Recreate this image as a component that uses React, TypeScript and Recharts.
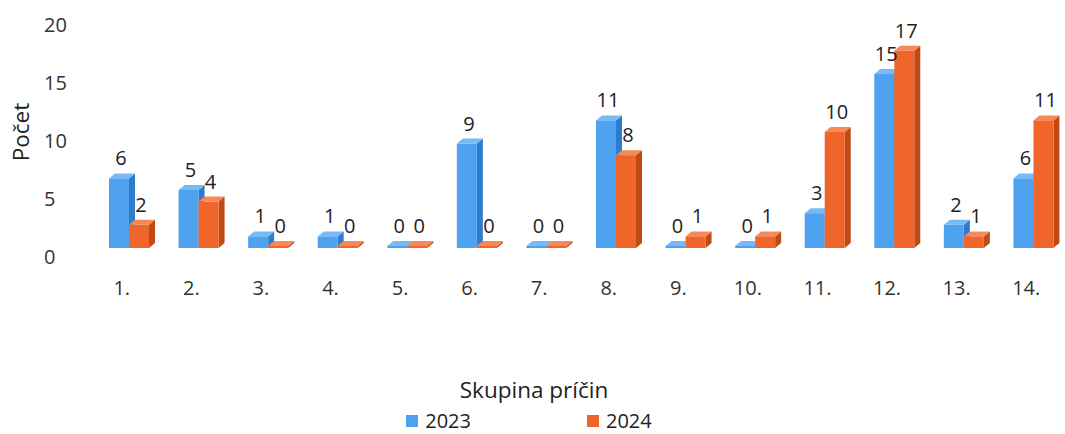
import { BarChart, Bar, XAxis, YAxis, Legend, LabelList } from "recharts";

const categories = ["1.", "2.", "3.", "4.", "5.", "6.", "7.", "8.", "9.", "10.", "11.", "12.", "13.", "14."];
const values2023 = [6, 5, 1, 1, 0, 9, 0, 11, 0, 0, 3, 15, 2, 6];
const values2024 = [2, 4, 0, 0, 0, 0, 0, 8, 1, 1, 10, 17, 1, 11];
const yTicks = [0, 5, 10, 15, 20];

const data = categories.map((name, i) => ({ name, y2023: values2023[i], y2024: values2024[i] }));

const FONT = "'Open Sans', sans-serif";
const DEPTH_X = 6;
const DEPTH_Y = 5;

const palette = {
  y2023: { front: "#4ea2f0", side: "#2f7ccc", top: "#76baf7" },
  y2024: { front: "#f0662a", side: "#c04a16", top: "#f58a56" },
};

function make3DBar(colors: { front: string; side: string; top: string }) {
  return (props: any) => {
    const { x, width } = props;
    let { y, height } = props;
    if (height < 2) {
      y = y + height - 2;
      height = 2;
    }
    const dx = DEPTH_X;
    const dy = DEPTH_Y;
    return (
      <g>
        <polygon
          points={`${x + width},${y} ${x + width + dx},${y - dy} ${x + width + dx},${y + height - dy} ${x + width},${y + height}`}
          fill={colors.side}
        />
        <polygon
          points={`${x},${y} ${x + dx},${y - dy} ${x + width + dx},${y - dy} ${x + width},${y}`}
          fill={colors.top}
        />
        <rect x={x} y={y} width={width} height={height} fill={colors.front} />
      </g>
    );
  };
}

const BarLabel = (props: any) => {
  const { x, y, width, height, value } = props;
  const top = height < 2 ? y + height - 2 : y;
  return (
    <text
      x={x + width / 2 + 2}
      y={top - DEPTH_Y - 8}
      textAnchor="middle"
      fontSize={20}
      fontFamily={FONT}
      fill="#222"
    >
      {value}
    </text>
  );
};

const YTick = ({ x, y, payload }: any) => (
  <text x={x - 50} y={y + 8.5} textAnchor="start" dominantBaseline="central" fontSize={20} fontFamily={FONT} fill="#333">
    {payload.value}
  </text>
);

const XTick = ({ x, y, payload }: any) => (
  <text x={x - 7} y={y + 39} textAnchor="middle" dominantBaseline="central" fontSize={20} fontFamily={FONT} fill="#333">
    {payload.value}
  </text>
);

const YTitle = ({ viewBox }: any) => {
  const cy = viewBox.y + viewBox.height / 2;
  return (
    <text x={20} y={cy} transform={`rotate(-90, 20, ${cy})`} textAnchor="middle" dominantBaseline="central" fontSize={22.5} fontFamily={FONT} fill="#222">
      Počet
    </text>
  );
};

const LegendContent = () => (
  <div style={{ position: "relative", width: 1068, height: 59, fontFamily: FONT, color: "#222" }}>
    <div style={{ position: "absolute", left: 0, top: 0, width: 1068, height: 30, lineHeight: "30px", textAlign: "center", fontSize: 22.5 }}>
      Skupina príčin
    </div>
    <div
      style={{
        position: "absolute",
        left: 0,
        top: 36,
        width: 1058,
        height: 20,
        lineHeight: "20px",
        display: "flex",
        justifyContent: "center",
        alignItems: "center",
        gap: 116,
      }}
    >
      {[
        { label: "2023", color: palette.y2023.front },
        { label: "2024", color: palette.y2024.front },
      ].map((item) => (
        <div key={item.label} style={{ display: "flex", alignItems: "center", fontSize: 20 }}>
          <span style={{ width: 12, height: 12, background: item.color, display: "inline-block", marginRight: 7 }} />
          <span>{item.label}</span>
        </div>
      ))}
    </div>
  </div>
);

export default function App() {
  return (
    <div style={{ position: "absolute", left: 0, top: 0, width: 1065, height: 434, overflow: "hidden", background: "#fff" }}>
      <BarChart
        width={1068}
        height={434}
        data={data}
        margin={{ top: 16, right: 0, bottom: 0, left: 0 }}
        barGap={0}
        barSize={20}
      >
        <XAxis dataKey="name" axisLine={false} tickLine={false} tickSize={0} tickMargin={0} height={127} tick={<XTick />} interval={0} />
        <YAxis
          domain={[0, 20]}
          ticks={yTicks}
          width={94}
          axisLine={false}
          tickLine={false}
          tickSize={0}
          tickMargin={0}
          tick={<YTick />}
          label={<YTitle />}
        />
        <Legend verticalAlign="bottom" align="left" content={<LegendContent />} wrapperStyle={{ left: 0, width: 1068, height: 59 }} />
        <Bar dataKey="y2023" name="2023" fill={palette.y2023.front} shape={make3DBar(palette.y2023)} isAnimationActive={false}>
          <LabelList dataKey="y2023" content={<BarLabel />} />
        </Bar>
        <Bar dataKey="y2024" name="2024" fill={palette.y2024.front} shape={make3DBar(palette.y2024)} isAnimationActive={false}>
          <LabelList dataKey="y2024" content={<BarLabel />} />
        </Bar>
      </BarChart>
    </div>
  );
}
